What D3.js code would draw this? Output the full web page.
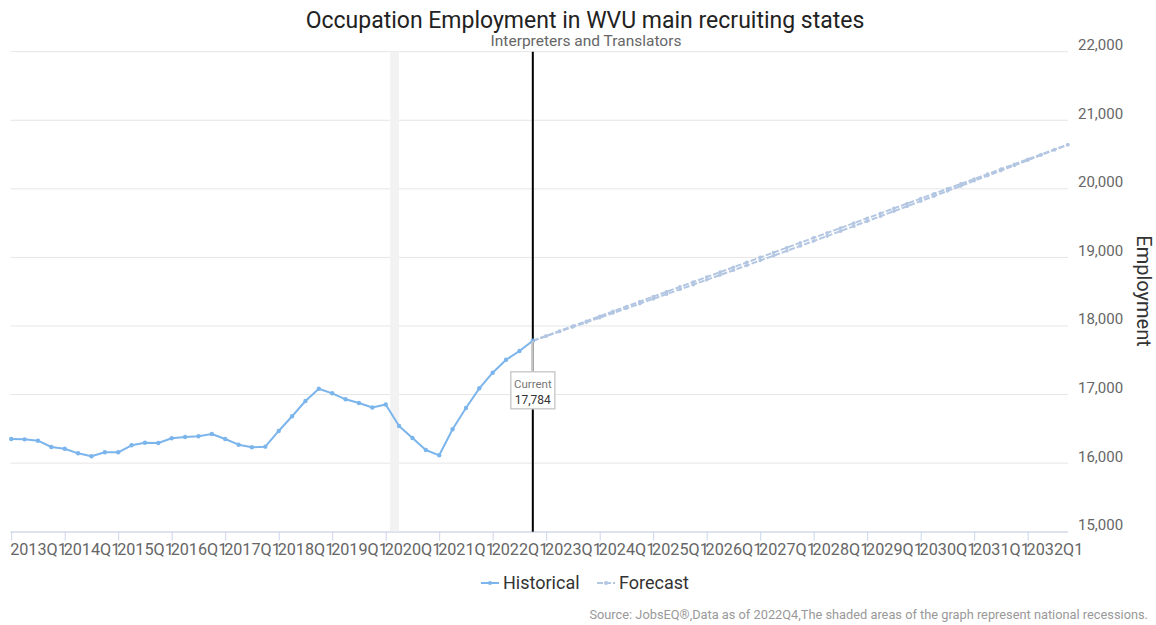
<!DOCTYPE html>
<html>
<head>
<meta charset="utf-8">
<script src="https://cdn.jsdelivr.net/npm/d3@7"></script>
<style>
  body { margin: 0; background: #fff; }
  svg { display: block; font-family: Roboto, "Noto Sans", sans-serif; }
</style>
</head>
<body>
<script>
// Data
// =================================
var years = [2013, 2014, 2015, 2016, 2017, 2018, 2019, 2020, 2021, 2022,
  2023, 2024, 2025, 2026, 2027, 2028, 2029, 2030, 2031, 2032];

// 2013Q1 .. 2022Q4
var historical = [16352, 16347, 16327, 16235, 16210, 16143, 16100, 16158, 16158, 16260,
  16298, 16293, 16362, 16381, 16391, 16425, 16352, 16269, 16231, 16240,
  16469, 16683, 16906, 17085, 17018, 16931, 16877, 16812, 16855, 16541,
  16366, 16191, 16114, 16493, 16804, 17091, 17319, 17508, 17635, 17784];

// 2022Q4 .. 2032Q4 (two forecast runs, drawn dashed)
var forecastUpper = [17784, 17856, 17927, 17999, 18070, 18142, 18213, 18285, 18356, 18428,
  18499, 18571, 18642, 18714, 18785, 18857, 18928, 19000, 19071, 19143,
  19214, 19286, 19357, 19429, 19500, 19572, 19643, 19715, 19786, 19858,
  19929, 20001, 20072, 20144, 20215, 20287, 20358, 20430, 20501, 20573, 20644];
var forecastLower = [17784, 17851, 17918, 17986, 18053, 18121, 18189, 18258, 18326, 18395,
  18464, 18534, 18603, 18673, 18743, 18813, 18884, 18954, 19025, 19096,
  19168, 19239, 19311, 19383, 19456, 19528, 19601, 19674, 19747, 19821,
  19894, 19968, 20043, 20117, 20192, 20266, 20341, 20417, 20492, 20568, 20644];

var yTicks = [15000, 16000, 17000, 18000, 19000, 20000, 21000, 22000];
var recession = { from: 2020 + 1 / 12, to: 2020 + 3 / 12 }; // Feb 2020 - Apr 2020
var currentLabel = "2022Q4";

// Step 1: Set up the chart
// =================================
var svgWidth = 1156;
var svgHeight = 625;
var plot = { left: 10.5, right: 1068, top: 51.7, bottom: 531.7 };

var quarters = [];
years.forEach(function(y) {
  [1, 2, 3, 4].forEach(function(q) { quarters.push(y + "Q" + q); });
});
var firstForecast = quarters.indexOf(currentLabel);

var svg = d3.select("body").append("svg")
  .attr("width", svgWidth)
  .attr("height", svgHeight);

// Step 2: Scales
// =================================
var xScale = d3.scaleLinear()
  .domain([0, quarters.length - 1])
  .range([11.2, 1067.8]);

var yScale = d3.scaleLinear()
  .domain([15000, 22000])
  .range([plot.bottom, plot.top]);

function yearToIndex(t) { return (t - years[0]) * 4; }

// Step 3: Grid, recession band, axes
// =================================
svg.append("g")
  .selectAll("line")
  .data(yTicks)
  .enter()
  .append("line")
  .attr("x1", plot.left)
  .attr("x2", plot.right)
  .attr("y1", d => yScale(d))
  .attr("y2", d => yScale(d))
  .attr("stroke", "#e6e6e6")
  .attr("stroke-width", 1);

svg.append("rect")
  .attr("x", xScale(yearToIndex(recession.from)))
  .attr("y", plot.top)
  .attr("width", xScale(yearToIndex(recession.to)) - xScale(yearToIndex(recession.from)))
  .attr("height", plot.bottom - plot.top)
  .attr("fill", "#f2f2f2");

// bottom axis: tick at each Q1, label sits between ticks
var tickIdx = quarters.map((q, i) => i).filter(i => quarters[i].endsWith("Q1"));
var bottomAxis = d3.axisBottom(xScale)
  .tickValues(tickIdx)
  .tickSize(9)
  .tickSizeOuter(0)
  .tickFormat(i => quarters[i]);

var xAxisG = svg.append("g")
  .attr("transform", `translate(0, ${plot.bottom})`)
  .call(bottomAxis);
xAxisG.select(".domain").attr("stroke", "#ccd6eb").attr("d", `M${plot.left},0.5H${plot.right}`);
xAxisG.selectAll(".tick line").attr("stroke", "#ccd6eb");
xAxisG.selectAll(".tick text")
  .attr("x", (xScale(4) - xScale(0)) / 2)
  .attr("y", 18)
  .attr("dy", "0.32em")
  .attr("fill", "#666666")
  .attr("font-size", "16.2px")
  .attr("font-family", "Roboto, sans-serif");

var rightAxis = d3.axisRight(yScale)
  .tickValues(yTicks)
  .tickSize(0)
  .tickFormat(d3.format(","));
var yAxisG = svg.append("g")
  .attr("transform", `translate(${plot.right}, 0)`)
  .call(rightAxis);
yAxisG.select(".domain").remove();
yAxisG.selectAll(".tick text")
  .attr("x", 10)
  .attr("y", -2)
  .attr("dy", 0)
  .attr("fill", "#666666")
  .attr("font-size", "15px")
  .attr("font-family", "Roboto, sans-serif");

svg.append("text")
  .attr("transform", "translate(1137, 291) rotate(90)")
  .attr("text-anchor", "middle")
  .attr("font-size", "20px")
  .attr("fill", "#333333")
  .text("Employment");

// Step 4: Current plot line
// =================================
var curX = xScale(firstForecast);
svg.append("line")
  .attr("x1", curX).attr("x2", curX)
  .attr("y1", plot.top).attr("y2", plot.bottom)
  .attr("stroke", "#000")
  .attr("stroke-width", 2);

// Step 5: Lines and markers
// =================================
var histColor = "#7cb5ec";
var foreColor = "#b3c6e2";

var lineGen = d3.line()
  .x(d => xScale(d.i))
  .y(d => yScale(d.v));

var histPts = historical.map((v, i) => ({ i: i, v: v }));
var upperPts = forecastUpper.map((v, k) => ({ i: firstForecast + k, v: v }));
var lowerPts = forecastLower.map((v, k) => ({ i: firstForecast + k, v: v }));

[lowerPts, upperPts].forEach(function(pts) {
  svg.append("path")
    .datum(pts)
    .attr("d", lineGen)
    .attr("fill", "none")
    .attr("stroke", foreColor)
    .attr("stroke-width", 2)
    .attr("stroke-dasharray", "6,2");
  svg.append("g")
    .selectAll("circle")
    .data(pts)
    .enter()
    .append("circle")
    .attr("cx", d => xScale(d.i))
    .attr("cy", d => yScale(d.v))
    .attr("r", 1.8)
    .attr("fill", foreColor);
});

svg.append("path")
  .datum(histPts)
  .attr("d", lineGen)
  .attr("fill", "none")
  .attr("stroke", histColor)
  .attr("stroke-width", 2)
  .attr("stroke-linejoin", "round");

svg.append("g")
  .selectAll("circle")
  .data(histPts)
  .enter()
  .append("circle")
  .attr("cx", d => xScale(d.i))
  .attr("cy", d => yScale(d.v))
  .attr("r", 2.2)
  .attr("fill", histColor);

// Step 6: Current tooltip
// =================================
var curY = yScale(historical[historical.length - 1]);
var boxTop = curY + 31;
svg.append("line")
  .attr("x1", curX).attr("x2", curX)
  .attr("y1", curY).attr("y2", boxTop)
  .attr("stroke", "#c4c4c4")
  .attr("stroke-width", 2);
svg.append("rect")
  .attr("x", curX - 22)
  .attr("y", boxTop)
  .attr("width", 44)
  .attr("height", 37)
  .attr("fill", "#fff")
  .attr("stroke", "#cccccc")
  .attr("stroke-width", 1.5);
svg.append("text")
  .attr("x", curX).attr("y", boxTop + 16)
  .attr("text-anchor", "middle")
  .attr("font-size", "11.5px")
  .attr("fill", "#777777")
  .text("Current");
svg.append("text")
  .attr("x", curX).attr("y", boxTop + 32)
  .attr("text-anchor", "middle")
  .attr("font-size", "12px")
  .attr("fill", "#333333")
  .text(d3.format(",")(historical[historical.length - 1]));

// Step 7: Titles, legend, source
// =================================
svg.append("text")
  .attr("x", 585).attr("y", 28)
  .attr("text-anchor", "middle")
  .attr("font-size", "23px")
  .attr("fill", "#222222")
  .text("Occupation Employment in WVU main recruiting states");

svg.append("text")
  .attr("x", 586).attr("y", 46)
  .attr("text-anchor", "middle")
  .attr("font-size", "15.5px")
  .attr("fill", "#666666")
  .text("Interpreters and Translators");

var legendItems = [
  { name: "Historical", color: histColor, dash: null, x: 481 },
  { name: "Forecast", color: foreColor, dash: "6,2", x: 597 }
];
var legend = svg.append("g").selectAll("g")
  .data(legendItems)
  .enter()
  .append("g")
  .attr("transform", d => `translate(${d.x}, 583)`);
legend.append("line")
  .attr("x1", 0).attr("x2", 18)
  .attr("stroke", d => d.color)
  .attr("stroke-width", 2)
  .attr("stroke-dasharray", d => d.dash);
legend.append("circle")
  .attr("cx", 9).attr("r", 2)
  .attr("fill", d => d.color);
legend.append("text")
  .attr("x", 22).attr("y", 6)
  .attr("font-size", "18px")
  .attr("fill", "#333333")
  .text(d => d.name);

svg.append("text")
  .attr("x", 1148).attr("y", 619)
  .attr("text-anchor", "end")
  .attr("font-size", "12.8px")
  .attr("fill", "#999999")
  .text("Source: JobsEQ\u00ae,Data as of 2022Q4,The shaded areas of the graph represent national recessions.");
</script>
</body>
</html>
